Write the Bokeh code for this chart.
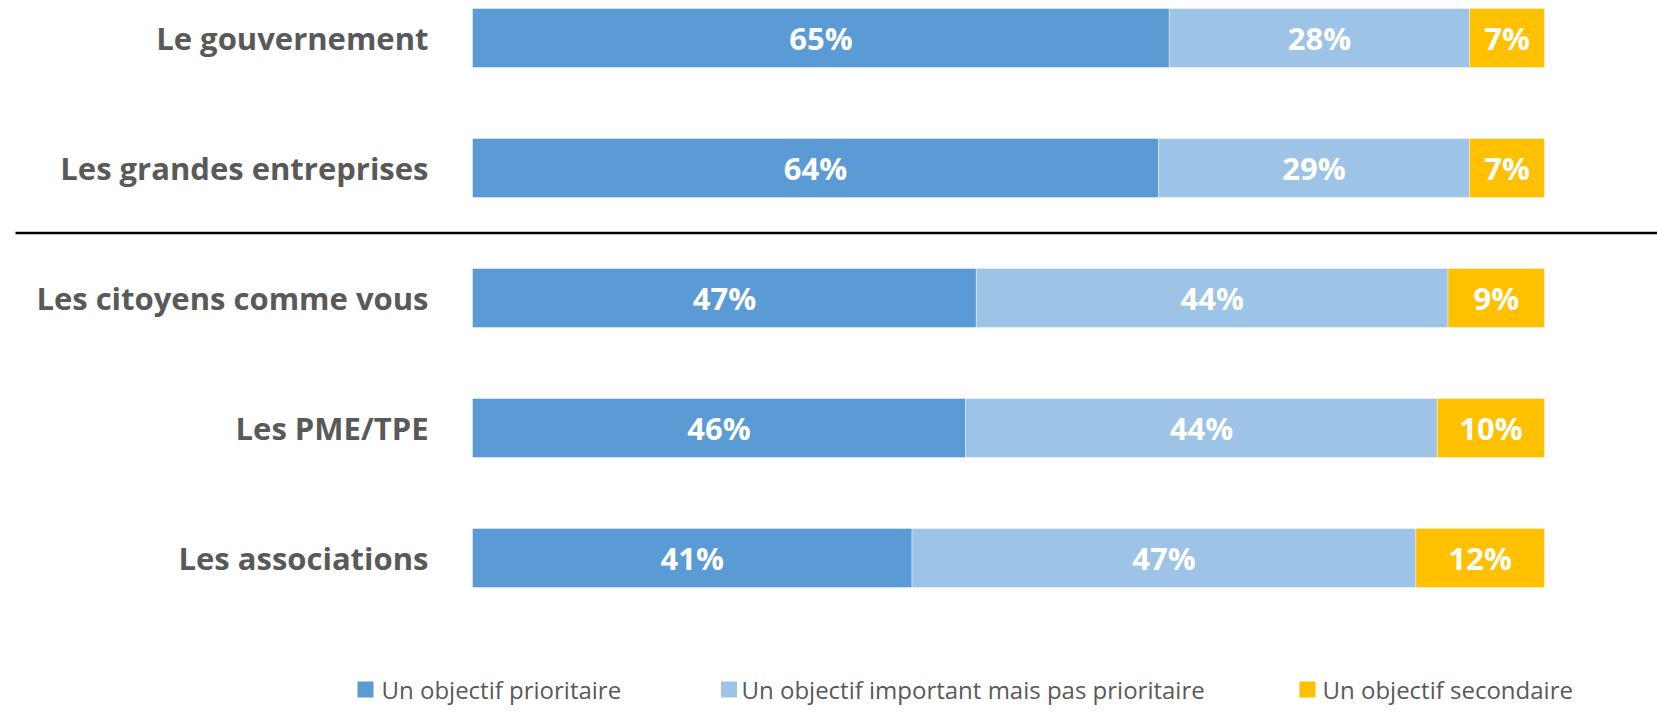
from bokeh.plotting import figure
from bokeh.models import Range1d, ColumnDataSource
from bokeh.core.properties import value
from bokeh.embed import file_html
from bokeh.resources import INLINE

categories = ["Le gouvernement", "Les grandes entreprises", "Les citoyens comme vous",
              "Les PME/TPE", "Les associations"]
prioritaire = [65, 64, 47, 46, 41]
important = [28, 29, 44, 44, 47]
secondaire = [7, 7, 9, 10, 12]
series_names = ["Un objectif prioritaire", "Un objectif important mais pas prioritaire",
                "Un objectif secondaire"]
colors = ["#5B9BD5", "#9DC3E6", "#FFC000"]

# layout helpers (figure pixel -> data)
PX_PER_PCT = 10.72
X0 = 472.0
def sx(s):
    return (s - X0) / PX_PER_PCT
ROW0 = 37.5
PITCH = 130.0
def sy(s):
    return (s - ROW0) / PITCH

W, H = 1657, 713
p = figure(width=W, height=H, output_backend="svg", toolbar_location=None,
           x_range=Range1d(sx(0), sx(W)), y_range=Range1d(sy(H), sy(0)),
           min_border=0, outline_line_color=None)
p.axis.visible = False
p.grid.visible = False
p.background_fill_color = "white"

ys = list(range(len(categories)))
series = [prioritaire, important, secondaire]
lefts = [0] * len(categories)
for vals, col in zip(series, colors):
    rights = [l + v for l, v in zip(lefts, vals)]
    src = ColumnDataSource(dict(y=ys, left=lefts, right=rights,
                                mid=[(l + r) / 2 for l, r in zip(lefts, rights)],
                                lab=[f"{v}%" for v in vals]))
    p.hbar(y="y", left="left", right="right", height=59 / PITCH, source=src,
           fill_color=col, line_color="white", line_width=1, line_alpha=0.4)
    p.text(x="mid", y="y", text="lab", source=src, text_color="white",
           text_font=value("Open Sans"), text_font_style="bold", text_font_size="31px",
           text_align="center", text_baseline="middle")
    lefts = rights

# category labels
p.text(x=[sx(428)] * len(categories), y=ys, text=categories, text_color="#595959",
       text_font=value("Open Sans"), text_font_style="bold", text_font_size="31px",
       text_align="right", text_baseline="middle")

# separator line between groups
p.line(x=[sx(15), sx(W)], y=[1.5, 1.5], line_color="black", line_width=2.5)

# legend
sq_x = [365, 728.5, 1307]
tx_x = [381, 741, 1322]
p.rect(x=[sx(v) for v in sq_x], y=[sy(689)] * 3, width=16, height=16,
       width_units="screen", height_units="screen", fill_color=colors, line_color=None)
p.text(x=[sx(v) for v in tx_x], y=[sy(689)] * 3, text=series_names, text_color="#595959",
       text_font=value("Open Sans"), text_font_size="24px",
       text_align="left", text_baseline="middle")

open("out.html", "w").write(file_html(p, INLINE))
